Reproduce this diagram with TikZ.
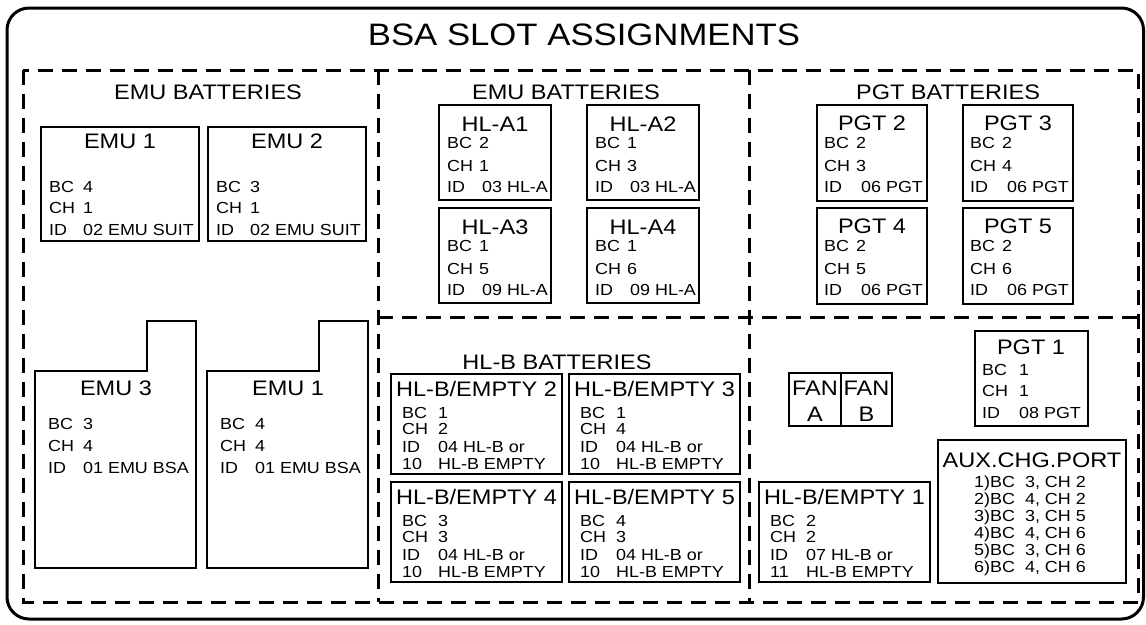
\documentclass[tikz,border=0pt]{standalone}
\usepackage{fontspec}
\setmainfont[FakeStretch=1.12]{Liberation Sans}
\usepackage{tikz}

\begin{document}
\begin{tikzpicture}[x=1pt, y=-1pt,
  zona/.style={line width=3pt, dash pattern=on 15pt off 9pt},
  caja/.style={draw, line width=1.6pt, anchor=north west, inner sep=0pt, outer sep=0pt},
  grande/.style={font=\fontsize{31}{31}\selectfont, anchor=base, inner sep=0pt},
  titulo/.style={font=\fontsize{21}{21}\selectfont, anchor=base, inner sep=0pt},
  dato/.style={font=\fontsize{16}{16}\selectfont, anchor=base west, inner sep=0pt}]
  \useasboundingbox (0,0) rectangle (1146,624);
  % marco y titulo
  \draw[line width=3pt, rounded corners=22pt] (7,8) rectangle (1143.5,619);
  \node[grande] (tit) at (584,45) {BSA SLOT ASSIGNMENTS};
  % zonas
  \draw[zona] (23,70) rectangle (1138,602);
  \draw[zona] (378,70) -- (378,602);
  \draw[zona] (749,70) -- (749,602);
  \draw[zona] (378,317) -- (1138,317);
  \node[titulo] (h1) at (208,99) {EMU BATTERIES};
  \node[titulo] (h2) at (566,99) {EMU BATTERIES};
  \node[titulo] (h3) at (948,99) {PGT BATTERIES};
  \node[titulo] (h4) at (557,369) {HL-B BATTERIES};
  % EMU arriba
  \foreach \n/\x/\k/\bc in {emua/41/1/4, emub/208/2/3}{
    \node[caja, minimum width=158pt, minimum height=114pt] (\n) at (\x,127) {};
    \node[titulo] (\n-t) at (\x+79,148) {EMU \k};
    \node[dato] (\n-l1) at (\x+8,192) {BC}; \node[dato] (\n-v1) at (\x+42,192) {\bc};
    \node[dato] (\n-l2) at (\x+8,213) {CH}; \node[dato] (\n-v2) at (\x+42,213) {1};
    \node[dato] (\n-l3) at (\x+8,235) {ID}; \node[dato] (\n-v3) at (\x+42,235) {02 EMU SUIT};
  }
  % EMU abajo (con pestana)
  \foreach \n/\x/\k/\bc in {emuc/35/3/3, emud/207/1/4}{
    \draw[line width=1.6pt] (\x,371) -- (\x+112,371) -- (\x+112,321) -- (\x+161,321) -- (\x+161,568) -- (\x,568) -- cycle;
    \node[titulo] (\n-t) at (\x+81,395) {EMU \k};
    \node[dato] (\n-l1) at (\x+13,429) {BC}; \node[dato] (\n-v1) at (\x+48,429) {\bc};
    \node[dato] (\n-l2) at (\x+13,451) {CH}; \node[dato] (\n-v2) at (\x+48,451) {4};
    \node[dato] (\n-l3) at (\x+13,473) {ID}; \node[dato] (\n-v3) at (\x+48,473) {01 EMU BSA};
  }
  % HL-A
  \foreach \n/\x/\y/\k/\bc/\ch/\id in {hla1/439/105/1/2/1/03, hla2/587/105/2/1/3/03, hla3/439/208/3/1/5/09, hla4/587/208/4/1/6/09}{
    \node[caja, minimum width=112pt, minimum height=95pt] (\n) at (\x,\y) {};
    \node[titulo] (\n-t) at (\x+56,\y+26) {HL-A\k};
    \node[dato] (\n-l1) at (\x+8,\y+43) {BC}; \node[dato] (\n-v1) at (\x+40,\y+43) {\bc};
    \node[dato] (\n-l2) at (\x+8,\y+66) {CH}; \node[dato] (\n-v2) at (\x+40,\y+66) {\ch};
    \node[dato] (\n-l3) at (\x+8,\y+87) {ID}; \node[dato] (\n-v3) at (\x+43,\y+87) {\id\ HL-A};
  }
  % PGT 2-5
  \foreach \n/\x/\y/\k/\ch in {pgtb/817/105/2/3, pgtc/963/105/3/4, pgtd/817/208/4/5, pgte/963/208/5/6}{
    \node[caja, minimum width=110pt, minimum height=96pt] (\n) at (\x,\y) {};
    \node[titulo] (\n-t) at (\x+55,\y+25) {PGT \k};
    \node[dato] (\n-l1) at (\x+7,\y+43) {BC}; \node[dato] (\n-v1) at (\x+39,\y+43) {2};
    \node[dato] (\n-l2) at (\x+7,\y+66) {CH}; \node[dato] (\n-v2) at (\x+39,\y+66) {\ch};
    \node[dato] (\n-l3) at (\x+7,\y+87) {ID}; \node[dato] (\n-v3) at (\x+44,\y+87) {06 PGT};
  }
  % HL-B / EMPTY
  \foreach \n/\x/\y/\k/\bc/\ch/\id/\ex in {hlb2/391/374/2/1/2/04/10, hlb3/569/374/3/1/4/04/10, hlb4/391/482/4/3/3/04/10, hlb5/569/482/5/4/3/04/10, hlb1/759/482/1/2/2/07/11}{
    \node[caja, minimum width=171pt, minimum height=100pt] (\n) at (\x,\y) {};
    \node[titulo] (\n-t) at (\x+85.5,\y+22) {HL-B/EMPTY \k};
    \node[dato] (\n-l1) at (\x+11,\y+44) {BC}; \node[dato] (\n-v1) at (\x+47,\y+44) {\bc};
    \node[dato] (\n-l2) at (\x+11,\y+60) {CH}; \node[dato] (\n-v2) at (\x+47,\y+60) {\ch};
    \node[dato] (\n-l3) at (\x+11,\y+78) {ID}; \node[dato] (\n-v3) at (\x+47,\y+78) {\id\ HL-B or};
    \node[dato] (\n-l4) at (\x+11,\y+95) {\ex}; \node[dato] (\n-v4) at (\x+47,\y+95) {HL-B EMPTY};
  }
  % PGT 1
  \node[caja, minimum width=113pt, minimum height=95pt] (pgta) at (975,331) {};
  \node[titulo] (pgta-t) at (1031,354) {PGT 1};
  \node[dato] (pgta-l1) at (982,375) {BC}; \node[dato] (pgta-v1) at (1019,375) {1};
  \node[dato] (pgta-l2) at (982,396) {CH}; \node[dato] (pgta-v2) at (1019,396) {1};
  \node[dato] (pgta-l3) at (982,418) {ID}; \node[dato] (pgta-v3) at (1019,418) {08 PGT};
  % ventiladores
  \foreach \n/\x/\w/\k in {fana/789/52/A, fanb/841/51/B}{
    \node[caja, minimum width=\w pt, minimum height=53pt] (\n) at (\x,373) {};
    \node[titulo] (\n-t) at (\x+\w/2,395) {FAN};
    \node[titulo] (\n-k) at (\x+\w/2,421) {\k};
  }
  % puerto auxiliar
  \node[caja, minimum width=188pt, minimum height=143pt] (aux) at (938,440) {};
  \node[titulo] (aux-t) at (1032,467) {AUX.CHG.PORT};
  \foreach \i/\bc/\ch in {1/3/2, 2/4/2, 3/3/5, 4/4/6, 5/3/6, 6/4/6}{
    \node[dato, anchor=base] (aux-\i) at (1030,470+17*\i) {\i)BC\hspace{10pt}\bc, CH \ch};
  }
\end{tikzpicture}
\end{document}
